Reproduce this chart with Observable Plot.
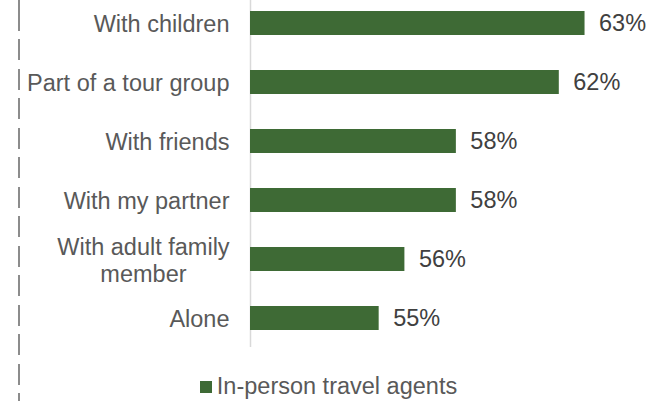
<!DOCTYPE html>
<html>
<head>
<meta charset="utf-8">
<script src="https://cdn.jsdelivr.net/npm/d3@7"></script>
<script src="https://cdn.jsdelivr.net/npm/@observablehq/plot@0.6"></script>
<style>
  html, body { margin: 0; padding: 0; background: #fff; }
  #wrap { position: relative; width: 657px; height: 401px; overflow: hidden; font-family: "Liberation Sans", Arial, sans-serif; }
  #dash { position: absolute; left: 18px; top: 0; width: 2px; height: 401px;
    background: repeating-linear-gradient(to bottom, #8c8c8c 0px, #8c8c8c 21px, transparent 21px, transparent 29.5px);
    background-position: 0 10px; }
  #chart { position: absolute; left: 0; top: 0; }
  #legend { position: absolute; left: 0; top: 372px; width: 657px; text-align: center; font-size: 23.5px; line-height: 28px; color: #595959; }
  #legend .sw { display: inline-block; width: 12px; height: 12px; margin-right: 5px; vertical-align: 1px; }
</style>
</head>
<body>
<div id="wrap">
  <div id="dash"></div>
  <div id="chart"></div>
  <div id="legend"></div>
</div>
<script>
const categories = ["With children", "Part of a tour group", "With friends", "With my partner", "With adult family\nmember", "Alone"];
const values = [63, 62, 58, 58, 56, 55];
const seriesName = "In-person travel agents";
const xDomain = [50, 65];
const barColor = "#3e6a35";

const data = categories.map((c, i) => ({cat: c, value: values[i]}));

const chart = Plot.plot({
  width: 657,
  height: 352,
  marginLeft: 250,
  marginRight: 21,
  marginTop: 0,
  marginBottom: 11,
  style: {fontFamily: "'Liberation Sans', Arial, sans-serif", fontSize: "23.5px", color: "#595959", background: "transparent", overflow: "visible"},
  x: {domain: xDomain, clamp: true, axis: null},
  y: {domain: categories, paddingInner: 0.6, paddingOuter: 0.17, axis: null},
  marks: [
    Plot.ruleX([xDomain[0]], {stroke: "#d9d9d9", strokeWidth: 1.5, insetBottom: -6}),
    Plot.barX(data, {y: "cat", x: "value", fill: barColor}),
    Plot.axisY({tickSize: 0, tickPadding: 21, fontSize: 23.5, lineHeight: 1.15, fill: "#595959", label: null}),
    Plot.text(data, {y: "cat", x: "value", text: d => d.value + "%", dx: 14, textAnchor: "start", fontSize: 23.5, fill: "#404040"})
  ]
});
document.getElementById("chart").appendChild(chart);

// Center the lines of multi-line category labels (as in the original)
chart.querySelectorAll("text").forEach(t => {
  const spans = t.querySelectorAll("tspan");
  if (spans.length > 1) {
    const bb = t.getBBox();
    t.setAttribute("text-anchor", "middle");
    spans.forEach(s => s.setAttribute("x", bb.x + bb.width / 2));
  }
});

const legend = document.getElementById("legend");
const sw = document.createElement("span");
sw.className = "sw";
sw.style.background = barColor;
legend.appendChild(sw);
legend.appendChild(document.createTextNode(seriesName));
</script>
</body>
</html>
